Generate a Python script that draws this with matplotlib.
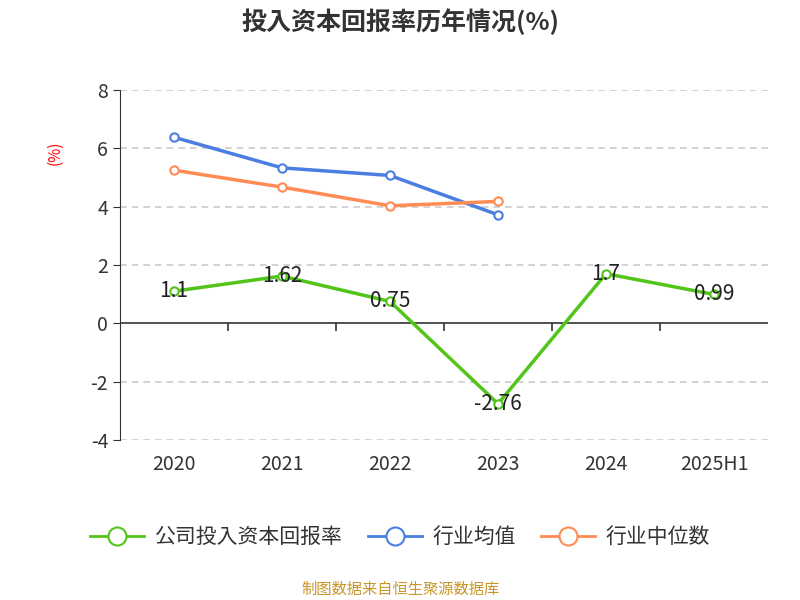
import numpy as np
import matplotlib.pyplot as plt

plt.rcParams["font.family"] = ["Noto Sans CJK SC", "Noto Sans CJK JP",
                               "Noto Sans CJK TC", "Noto Sans CJK KR",
                               "DejaVu Sans"]
plt.rcParams["axes.unicode_minus"] = False

categories = ["2020", "2021", "2022", "2023", "2024", "2025H1"]
company = [1.1, 1.62, 0.75, -2.76, 1.7, 0.99]
industry_avg = [6.38, 5.33, 5.07, 3.72]
industry_median = [5.25, 4.67, 4.03, 4.18]

green = "#52c41a"
blue = "#4a7ee0"
orange = "#ff8c55"

fig = plt.figure(figsize=(8, 6), dpi=100)
ax = fig.add_axes([0.15, 0.2667, 0.81, 0.5833])

x = np.arange(len(categories))
ax.plot(x, company, color=green, lw=2.5, marker="o", ms=6,
        mfc="white", mec=green, mew=1.5, zorder=4)
ax.plot(x[:4], industry_avg, color=blue, lw=2.5, marker="o", ms=6,
        mfc="white", mec=blue, mew=1.5, zorder=4)
ax.plot(x[:4], industry_median, color=orange, lw=2.5, marker="o", ms=6,
        mfc="white", mec=orange, mew=1.5, zorder=4)

for xi, v in zip(x, company):
    ax.text(xi, v, f"{v:g}", ha="center", va="center", fontsize=15,
            color="#222222", zorder=5)

ax.set_xlim(-0.5, 5.5)
ax.set_ylim(-4, 8)
ax.set_yticks([-4, -2, 0, 2, 4, 6, 8])
ax.tick_params(axis="y", labelsize=14, colors="#333333", length=5)
ax.set_xticks(x)
ax.set_xticklabels(categories)
ax.tick_params(axis="x", length=0, labelsize=14, colors="#333333", pad=10)

for y in [-4, -2, 2, 4, 6, 8]:
    ax.axhline(y, color="#cccccc", ls=(0, (4, 3)), lw=1.2, zorder=1)
ax.axhline(0, color="#333333", lw=1.2, zorder=2)
ax.vlines(np.arange(0.5, 5.5, 1), -0.25, 0, color="#333333", lw=1.2)

for s in ["top", "right", "bottom"]:
    ax.spines[s].set_visible(False)
ax.spines["left"].set_color("#333333")

ax.text(-0.1, 0.82, "(%)", transform=ax.transAxes, color="red",
        fontsize=11, rotation=90, ha="center", va="center")

fig.text(0.5, 0.963, "投入资本回报率历年情况(%)", ha="center", va="center",
         fontsize=18, fontweight="bold", color="#333333")

handles = [plt.Line2D([], [], color=c, lw=2, marker="o", ms=13, mfc="white",
                      mec=c, mew=1.5) for c in (green, blue, orange)]
fig.legend(handles, ["公司投入资本回报率", "行业均值", "行业中位数"],
           loc="center", bbox_to_anchor=(0.5, 0.105), ncol=3, frameon=False,
           fontsize=15, handlelength=2.6, columnspacing=1.2, handletextpad=0.5,
           labelcolor="#333333")

fig.text(0.5, 0.017, "制图数据来自恒生聚源数据库", ha="center", va="center",
         fontsize=11, color="#c8962a")

plt.savefig("out.png", dpi=100)
